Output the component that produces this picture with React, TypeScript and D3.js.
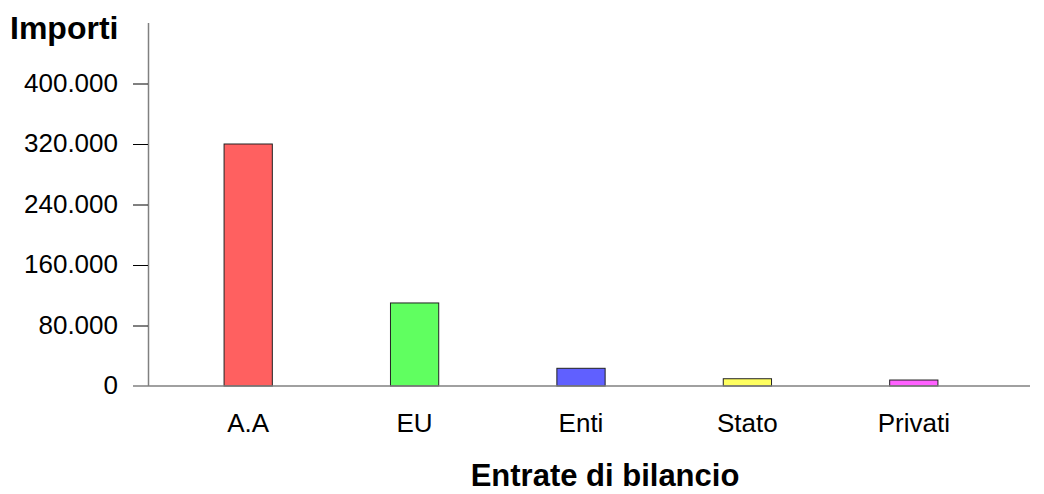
import React, { useEffect, useRef } from "react";
import * as d3 from "d3";

const categories = ["A.A", "EU", "Enti", "Stato", "Privati"];
const values = [320000, 109800, 23400, 9600, 7900];
const colors = ["#ff6060", "#60ff60", "#6060ff", "#ffff60", "#ff60ff"];
const yTicks = [0, 80000, 160000, 240000, 320000, 400000];

const W = 1044;
const H = 494;

const App = () => {
  const ref = useRef<SVGSVGElement>(null);

  useEffect(() => {
    const svg = d3.select(ref.current);
    svg.selectAll("*").remove();

    const font = "Liberation Sans, Arial, sans-serif";

    // scales
    const x = d3.scaleBand<string>().domain(categories).range([165, 997]);
    const y = d3.scaleLinear().domain([0, 480000]).range([386, 23]);
    const barW = x.bandwidth() * 0.29;

    // y axis line
    svg
      .append("line")
      .attr("x1", 148.5)
      .attr("x2", 148.5)
      .attr("y1", y(480000))
      .attr("y2", y(0))
      .attr("stroke", "#808080")
      .attr("stroke-width", 1.5);

    // y ticks
    const tg = svg.append("g");
    tg.selectAll("line")
      .data(yTicks.filter((d) => d > 0))
      .join("line")
      .attr("x1", 133)
      .attr("x2", 148)
      .attr("y1", (d) => y(d) + 0.5)
      .attr("y2", (d) => y(d) + 0.5)
      .attr("stroke", "#000")
      .attr("stroke-width", 1);

    tg.selectAll("text")
      .data(yTicks)
      .join("text")
      .attr("x", 118)
      .attr("y", (d) => y(d) + 8)
      .attr("text-anchor", "end")
      .attr("font-family", font)
      .attr("font-size", 26)
      .attr("fill", "#000")
      .text((d) => d3.format(",")(d).replace(/,/g, "."));

    // bars
    svg
      .append("g")
      .selectAll("rect")
      .data(values)
      .join("rect")
      .attr("x", (d, i) => x(categories[i])! + x.bandwidth() / 2 - barW / 2)
      .attr("y", (d) => y(d))
      .attr("width", barW)
      .attr("height", (d) => y(0) - y(d))
      .attr("fill", (d, i) => colors[i])
      .attr("stroke", "#222")
      .attr("stroke-width", 1);

    // x axis line
    svg
      .append("line")
      .attr("x1", 133)
      .attr("x2", 1030)
      .attr("y1", y(0))
      .attr("y2", y(0))
      .attr("stroke", "#808080")
      .attr("stroke-width", 1.5);

    // category labels
    svg
      .append("g")
      .selectAll("text")
      .data(categories)
      .join("text")
      .attr("x", (d) => x(d)! + x.bandwidth() / 2)
      .attr("y", 432)
      .attr("text-anchor", "middle")
      .attr("font-family", font)
      .attr("font-size", 26)
      .attr("fill", "#000")
      .text((d) => d);

    // axis titles
    svg
      .append("text")
      .attr("x", 10)
      .attr("y", 39)
      .attr("font-family", font)
      .attr("font-size", 32)
      .attr("font-weight", "bold")
      .text("Importi");

    svg
      .append("text")
      .attr("x", 605)
      .attr("y", 486)
      .attr("text-anchor", "middle")
      .attr("font-family", font)
      .attr("font-size", 31)
      .attr("font-weight", "bold")
      .text("Entrate di bilancio");
  }, []);

  return (
    <svg
      ref={ref}
      width={W}
      height={H}
      style={{ position: "absolute", left: 0, top: 0, background: "#fff" }}
    />
  );
};

export default App;
